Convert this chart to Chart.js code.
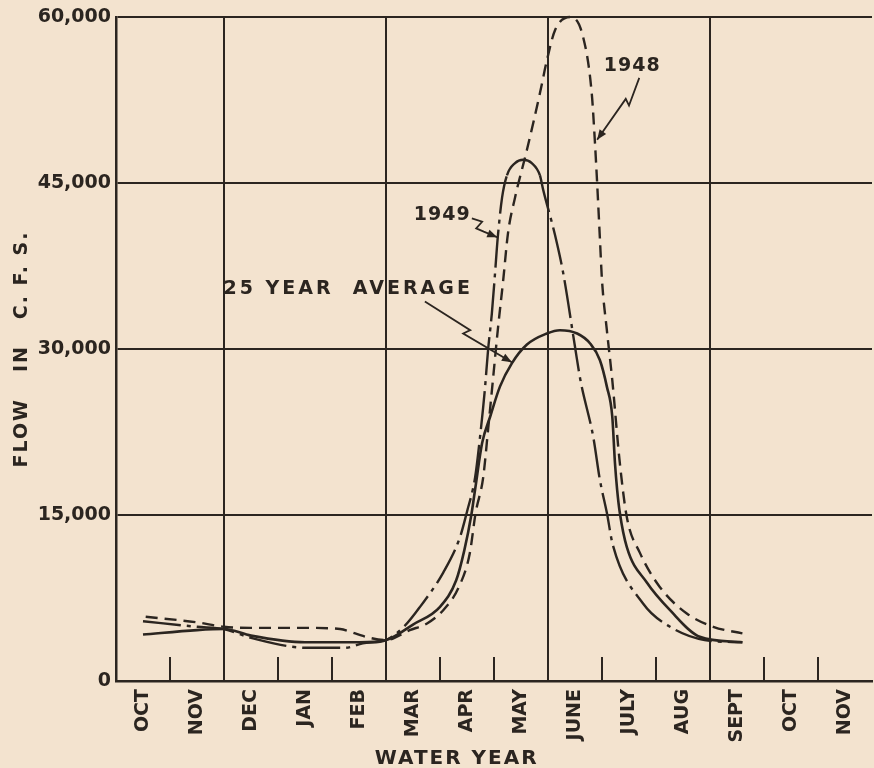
<!DOCTYPE html>
<html>
<head>
<meta charset="utf-8">
<script src="https://cdn.jsdelivr.net/npm/chart.js@4.4.1/dist/chart.umd.min.js"></script>
<style>
  html, body { margin: 0; padding: 0; background: #f3e3cf; }
  #wrap { width: 874px; height: 768px; }
</style>
</head>
<body>
<div id="wrap"><canvas id="flowChart" width="874" height="768"></canvas></div>
<script>
// month axis: 0 = start of OCT, one unit per month
const monthLabels = ['OCT', 'NOV', 'DEC', 'JAN', 'FEB', 'MAR', 'APR', 'MAY', 'JUNE', 'JULY', 'AUG', 'SEPT', 'OCT', 'NOV'];
const gridMonths = [0, 2, 5, 8, 11];
const tickMonths = [1, 3, 4, 6, 7, 9, 10, 12, 13];
const flowTicks = [0, 15000, 30000, 45000, 60000];

// 25 year average (solid)
const avgMonth = [0.5, 1.5, 2.0, 2.5, 3.5, 4.5, 5.0, 5.5, 6.0, 6.3, 6.45, 6.58, 6.65, 6.78, 6.93, 7.11, 7.33, 7.61, 7.98, 8.22, 8.54, 8.78, 8.96, 9.09, 9.19, 9.24, 9.28, 9.33, 9.46, 9.83, 10.26, 10.81, 11.6];
const avgFlow = [4200, 4600, 4700, 4100, 3500, 3500, 3700, 5100, 6700, 9100, 11800, 15000, 17300, 21500, 23900, 26600, 28700, 30400, 31400, 31700, 31400, 30500, 29000, 26600, 23900, 19700, 17300, 15200, 12100, 8900, 6400, 4000, 3500];

// 1948 (dashed)
const month1948 = [0.55, 1.5, 2.0, 2.5, 3.5, 4.15, 4.43, 4.7, 5.0, 5.44, 5.76, 6.06, 6.35, 6.55, 6.66, 6.8, 6.89, 6.98, 7.07, 7.17, 7.26, 7.39, 7.61, 7.85, 7.98, 8.13, 8.41, 8.65, 8.81, 8.87, 8.91, 8.96, 9.0, 9.09, 9.19, 9.33, 9.46, 9.7, 10.07, 10.57, 11.06, 11.6];
const flow1948 = [5800, 5300, 4900, 4800, 4800, 4700, 4300, 3900, 3700, 4600, 5200, 6400, 8500, 11500, 15200, 18400, 22700, 27200, 31700, 36200, 40500, 43700, 48000, 53100, 56100, 58800, 60000, 58200, 53100, 48600, 45000, 40100, 36200, 31700, 27200, 19700, 14800, 11600, 8500, 6100, 4900, 4300];

// 1949 (long dash and dot)
const month1949 = [0.5, 1.5, 2.0, 2.5, 3.54, 4.24, 4.57, 5.0, 5.35, 5.63, 6.06, 6.37, 6.5, 6.65, 6.74, 6.83, 6.89, 6.96, 7.02, 7.07, 7.15, 7.24, 7.39, 7.54, 7.70, 7.85, 7.91, 8.13, 8.28, 8.5, 8.6, 8.84, 8.96, 9.09, 9.2, 9.76, 10.26, 10.9, 11.6];
const flow1949 = [5400, 4900, 4700, 3900, 3000, 3000, 3400, 3700, 5000, 6700, 9800, 13000, 15300, 18400, 22000, 26300, 29900, 33200, 36900, 40100, 43700, 45700, 46800, 47100, 46800, 45700, 44400, 40300, 36900, 30200, 27200, 22000, 18200, 15200, 12300, 7000, 4900, 3700, 3500];

// hand lettered notes with their leader lines (month, cfs)
const noteText = ['1948', '1949', '25 YEAR  AVERAGE'];
const noteAt = [[9.56, 55600], [6.04, 42100], [4.30, 35400]];
const noteSpacing = [1, 1, 3];
const noteLeaders = [
  [[9.69, 54500], [9.5, 52000], [9.44, 52600], [8.91, 48900]],
  [[6.59, 41800], [6.78, 41500], [6.67, 40900], [6.81, 40600], [7.06, 40100]],
  [[5.72, 34300], [6.56, 31700], [6.43, 31400], [7.33, 28800]]
];

const ink = '#2b2520';
const paper = '#f3e3cf';
const letterFont = 'bold 19px "DejaVu Sans"';

function toPoints(xs, ys) {
  return xs.map((x, i) => ({ x: x, y: ys[i] }));
}

function drawArrow(ctx, pts) {
  ctx.beginPath();
  ctx.moveTo(pts[0][0], pts[0][1]);
  for (let i = 1; i < pts.length; i++) ctx.lineTo(pts[i][0], pts[i][1]);
  ctx.stroke();
  const [x1, y1] = pts[pts.length - 2];
  const [x2, y2] = pts[pts.length - 1];
  const a = Math.atan2(y2 - y1, x2 - x1);
  ctx.beginPath();
  ctx.moveTo(x2, y2);
  ctx.lineTo(x2 - 10 * Math.cos(a) + 4 * Math.sin(a), y2 - 10 * Math.sin(a) - 4 * Math.cos(a));
  ctx.lineTo(x2 - 10 * Math.cos(a) - 4 * Math.sin(a), y2 - 10 * Math.sin(a) + 4 * Math.cos(a));
  ctx.closePath();
  ctx.fill();
}

const paperPlugin = {
  id: 'paper',
  beforeDraw(chart) {
    const ctx = chart.ctx;
    ctx.save();
    ctx.fillStyle = paper;
    ctx.fillRect(0, 0, chart.width, chart.height);
    ctx.restore();
  },
  beforeDatasetsDraw(chart) {
    const ctx = chart.ctx;
    const xs = chart.scales.x;
    const y0 = chart.scales.y.getPixelForValue(0);
    ctx.save();
    ctx.strokeStyle = ink;
    ctx.lineWidth = 2;
    tickMonths.forEach(m => {
      const x = xs.getPixelForValue(m);
      ctx.beginPath();
      ctx.moveTo(x, y0);
      ctx.lineTo(x, y0 - 24);
      ctx.stroke();
    });
    ctx.restore();
  },
  afterDatasetsDraw(chart) {
    const ctx = chart.ctx;
    const xs = chart.scales.x;
    const ys = chart.scales.y;
    const area = chart.chartArea;
    ctx.save();
    ctx.fillStyle = ink;
    ctx.strokeStyle = ink;
    ctx.lineWidth = 1.8;
    ctx.font = letterFont;
    ctx.textAlign = 'center';
    ctx.textBaseline = 'middle';

    noteText.forEach((t, i) => {
      ctx.letterSpacing = noteSpacing[i] + 'px';
      ctx.fillText(t, xs.getPixelForValue(noteAt[i][0]), ys.getPixelForValue(noteAt[i][1]));
      const pts = noteLeaders[i].map(p => [xs.getPixelForValue(p[0]), ys.getPixelForValue(p[1])]);
      drawArrow(ctx, pts);
    });

    // axis titles
    ctx.letterSpacing = '2px';
    ctx.font = 'bold 20px "DejaVu Sans"';
    ctx.fillText('WATER YEAR', xs.getPixelForValue(6.31), chart.height - 9);

    ctx.font = letterFont;
    ctx.translate(22, (area.top + area.bottom) / 2);
    ctx.rotate(-Math.PI / 2);
    ctx.fillText('FLOW   IN   C. F. S.', 0, 0);
    ctx.restore();
  }
};

const solidPeak = c => (c.p0.parsed.x >= 7.2 && c.p1.parsed.x <= 7.9) ? [] : undefined;

new Chart(document.getElementById('flowChart'), {
  type: 'line',
  data: {
    datasets: [
      {
        label: '25 Year Average',
        data: toPoints(avgMonth, avgFlow),
        borderColor: ink,
        borderWidth: 2.6,
        pointRadius: 0,
        cubicInterpolationMode: 'monotone',
        clip: 6
      },
      {
        label: '1948',
        data: toPoints(month1948, flow1948),
        borderColor: ink,
        borderWidth: 2.4,
        borderDash: [12, 7],
        pointRadius: 0,
        cubicInterpolationMode: 'monotone',
        clip: 6
      },
      {
        label: '1949',
        data: toPoints(month1949, flow1949),
        borderColor: ink,
        borderWidth: 2.4,
        borderDash: [38, 6, 4, 6],
        segment: { borderDash: solidPeak },
        pointRadius: 0,
        cubicInterpolationMode: 'monotone',
        clip: 6
      }
    ]
  },
  options: {
    responsive: false,
    devicePixelRatio: 1,
    animation: false,
    layout: { padding: { top: 17, right: 2, left: 0, bottom: 0 } },
    plugins: {
      legend: { display: false },
      tooltip: { enabled: false }
    },
    scales: {
      x: {
        type: 'linear',
        min: 0,
        max: 14,
        afterBuildTicks: scale => {
          const t = [];
          for (let i = 0; i <= 14; i++) {
            t.push({ value: i });
            if (i < 14) t.push({ value: i + 0.5 });
          }
          scale.ticks = t;
        },
        afterFit: scale => {
          scale.height = 87;
          scale.paddingLeft = 0;
          scale.paddingRight = 0;
        },
        grid: {
          color: c => (c.tick && gridMonths.includes(c.tick.value)) ? ink : 'rgba(0,0,0,0)',
          lineWidth: 2,
          drawTicks: false
        },
        border: { display: true, color: ink, width: 2.5 },
        ticks: {
          autoSkip: false,
          minRotation: 90,
          maxRotation: 90,
          padding: 8,
          color: ink,
          font: { family: 'DejaVu Sans', size: 19, weight: 'bold' },
          callback: v => (v % 1 === 0.5 ? monthLabels[Math.floor(v)] : '')
        }
      },
      y: {
        min: 0,
        max: 60000,
        afterBuildTicks: scale => { scale.ticks = flowTicks.map(v => ({ value: v })); },
        afterFit: scale => {
          scale.width = 116;
          scale.paddingTop = 0;
          scale.paddingBottom = 0;
        },
        grid: { color: ink, lineWidth: 2, drawTicks: false },
        border: { display: true, color: ink, width: 2.5 },
        ticks: {
          padding: 5,
          color: ink,
          font: { family: 'DejaVu Sans', size: 19, weight: 'bold' },
          callback: v => v.toLocaleString('en-US')
        }
      }
    }
  },
  plugins: [paperPlugin]
});
</script>
</body>
</html>
